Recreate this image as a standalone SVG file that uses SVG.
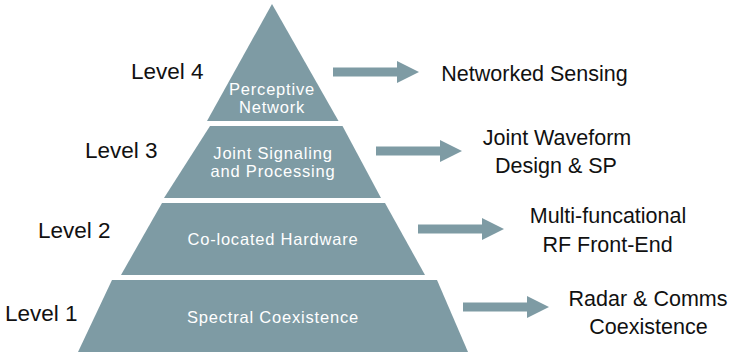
<svg xmlns="http://www.w3.org/2000/svg" width="731" height="354" viewBox="0 0 731 354">
  <style>
    .tier { fill: #7e9ba4; }
    .arrow { fill: #7e9ba4; }
    .inner { font-family: "Liberation Sans", Arial, sans-serif; font-size: 16.5px; fill: #ffffff; text-anchor: middle; letter-spacing: 0.8px; }
    .level { font-family: "Liberation Sans", Arial, sans-serif; font-size: 22.5px; fill: #111111; }
    .out { font-family: "Liberation Sans", Arial, sans-serif; font-size: 21.5px; fill: #111111; text-anchor: middle; }
  </style>
  <defs>
    <!-- block arrow: shaft 64 long, head 22 long, drawn from origin at mid-height -->
    <path id="blockArrow" d="M0,-4.5 H64 V-11 L86,0 L64,11 V4.5 H0 Z"/>
  </defs>

  <g id="level4">
    <polygon class="tier" points="272,4 338.5,121 207,121"/>
    <text class="inner" x="272" y="95">Perceptive</text>
    <text class="inner" x="272" y="113">Network</text>
    <text class="level" x="131" y="79">Level 4</text>
  </g>

  <g id="level3">
    <polygon class="tier" points="210,126 342.5,126 381,198 164,198"/>
    <text class="inner" x="273" y="159">Joint Signaling</text>
    <text class="inner" x="273" y="177">and Processing</text>
    <text class="level" x="85" y="158">Level 3</text>
  </g>

  <g id="level2">
    <polygon class="tier" points="162,203 385,203 425,275 121,275"/>
    <text class="inner" x="273" y="245">Co-located Hardware</text>
    <text class="level" x="38" y="238">Level 2</text>
  </g>

  <g id="level1">
    <polygon class="tier" points="112,280 437,280 468,352 78,352"/>
    <text class="inner" x="273" y="323">Spectral Coexistence</text>
    <text class="level" x="5" y="321">Level 1</text>
  </g>

  <g id="connectors">
    <use href="#blockArrow" class="arrow" x="333" y="72"/>
    <use href="#blockArrow" class="arrow" x="376" y="151"/>
    <use href="#blockArrow" class="arrow" x="418" y="229"/>
    <use href="#blockArrow" class="arrow" x="463" y="307"/>
  </g>

  <g id="outcome4">
    <text class="out" x="534.5" y="81">Networked Sensing</text>
  </g>
  <g id="outcome3">
    <text class="out" x="557" y="145">Joint Waveform</text>
    <text class="out" x="556" y="173">Design &amp; SP</text>
  </g>
  <g id="outcome2">
    <text class="out" x="608" y="223">Multi-funcational</text>
    <text class="out" x="607.5" y="252">RF Front-End</text>
  </g>
  <g id="outcome1">
    <text class="out" x="648" y="306">Radar &amp; Comms</text>
    <text class="out" x="648.5" y="334">Coexistence</text>
  </g>
</svg>
